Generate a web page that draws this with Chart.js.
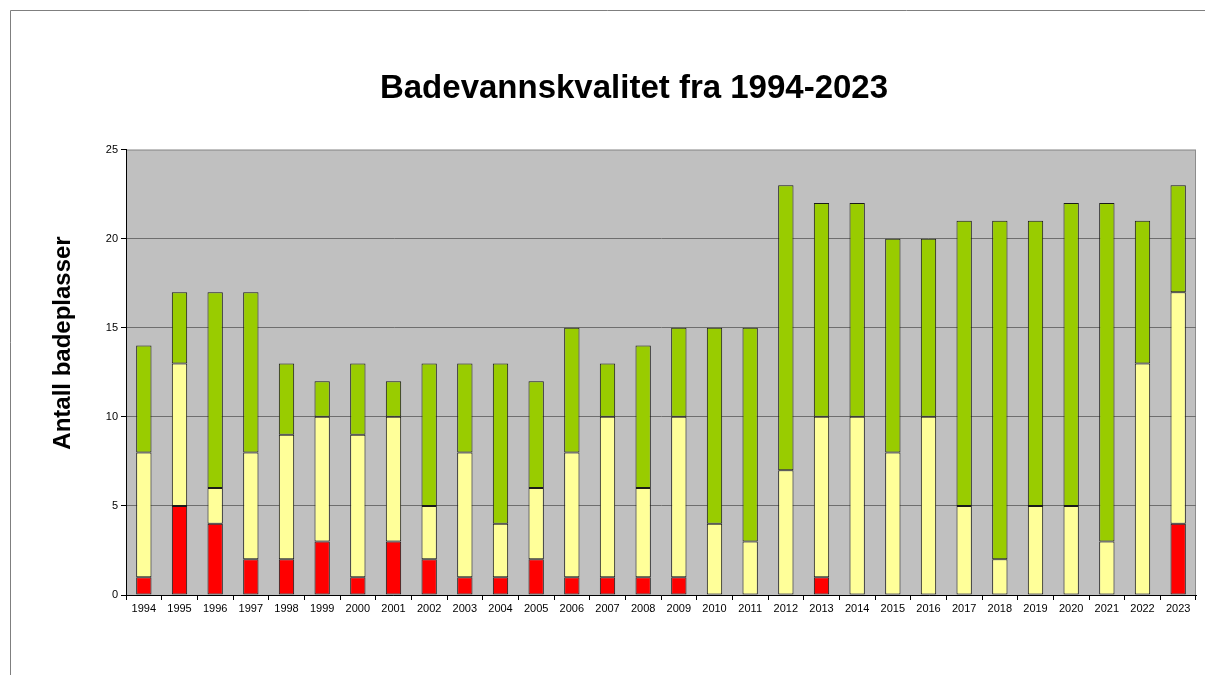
<!DOCTYPE html>
<html>
<head>
<meta charset="utf-8">
<script src="https://cdn.jsdelivr.net/npm/chart.js@4/dist/chart.umd.min.js"></script>
<style>
  html, body { margin: 0; padding: 0; background: #ffffff; }
  #wrap { width: 1205px; height: 675px; position: relative; }
</style>
</head>
<body>
<div id="wrap"><canvas id="c" width="1205" height="675"></canvas></div>
<script>
const years = ['1994','1995','1996','1997','1998','1999','2000','2001','2002','2003','2004','2005','2006','2007','2008','2009','2010','2011','2012','2013','2014','2015','2016','2017','2018','2019','2020','2021','2022','2023'];
const redValues    = [1,5,4,2,2,3,1,3,2,1,1,2,1,1,1,1,0,0,0,1,0,0,0,0,0,0,0,0,0,4];
const yellowValues = [7,8,2,6,7,7,8,7,3,7,3,4,7,9,5,9,4,3,7,9,10,8,10,5,2,5,5,3,13,13];
const greenValues  = [6,4,11,9,4,2,4,2,8,5,9,6,7,3,8,5,11,12,16,12,12,12,10,16,19,16,17,19,8,6];
const yTicks = [0,5,10,15,20,25];
const titleText = 'Badevannskvalitet fra 1994-2023';
const yTitleText = 'Antall badeplasser';

const FONT = '"Liberation Sans", Arial, sans-serif';

const framePlugin = {
  id: 'frame',
  beforeDraw(chart) {
    const ctx = chart.ctx;
    const a = chart.chartArea;
    ctx.save();
    ctx.fillStyle = '#ffffff';
    ctx.fillRect(0, 0, chart.width, chart.height);
    ctx.strokeStyle = '#7f7f7f';
    ctx.lineWidth = 1;
    ctx.beginPath();
    ctx.moveTo(10.5, chart.height);
    ctx.lineTo(10.5, 10.5);
    ctx.lineTo(chart.width, 10.5);
    ctx.stroke();
    ctx.fillStyle = '#c0c0c0';
    ctx.fillRect(a.left, a.top, a.right - a.left, a.bottom - a.top);
    ctx.strokeStyle = '#8c8c8c';
    ctx.strokeRect(a.left + 0.5, a.top + 0.5, a.right - a.left - 1, a.bottom - a.top);
    ctx.restore();
  },
  afterDraw(chart) {
    const ctx = chart.ctx;
    ctx.save();
    ctx.translate(63, 343);
    ctx.rotate(-Math.PI / 2);
    ctx.fillStyle = '#000';
    ctx.font = 'bold 24px ' + FONT;
    ctx.textAlign = 'center';
    ctx.textBaseline = 'middle';
    ctx.fillText(yTitleText, 0, 0);
    ctx.restore();
  }
};

const common = { borderColor: '#1a1a1a', borderWidth: 1, borderSkipped: false, barPercentage: 1, categoryPercentage: 0.43 };

new Chart(document.getElementById('c'), {
  type: 'bar',
  data: {
    labels: years,
    datasets: [
      Object.assign({ label: 'Rød', data: redValues, backgroundColor: '#ff0000' }, common),
      Object.assign({ label: 'Gul', data: yellowValues, backgroundColor: '#ffff99' }, common),
      Object.assign({ label: 'Grønn', data: greenValues, backgroundColor: '#99cc00' }, common)
    ]
  },
  options: {
    responsive: false,
    animation: false,
    devicePixelRatio: 1,
    layout: { padding: { left: 72, right: 9, top: 0, bottom: 0 } },
    plugins: {
      legend: { display: false },
      tooltip: { enabled: false },
      title: {
        display: true,
        text: titleText,
        color: '#000',
        font: { family: FONT, size: 33, weight: 'bold', lineHeight: 1.2 },
        padding: { top: 69, bottom: 41 }
      }
    },
    scales: {
      x: {
        stacked: true,
        grid: { display: true, drawOnChartArea: false, offset: true, tickLength: 5, color: '#000', tickColor: '#000' },
        border: { display: true, color: '#000', width: 1 },
        ticks: { color: '#000', font: { family: FONT, size: 11 }, padding: 2, maxRotation: 0, autoSkip: false },
        afterFit(s) { s.height = 80; }
      },
      y: {
        stacked: true,
        min: 0,
        max: 25,
        afterBuildTicks(s) { s.ticks = yTicks.map(v => ({ value: v })); },
        grid: {
          drawOnChartArea: true,
          tickLength: 5,
          tickColor: '#000',
          color: (c) => (c.tick && (c.tick.value === 25 || c.tick.value === 0)) ? 'rgba(0,0,0,0)' : '#6e6e6e'
        },
        border: { display: true, color: '#000', width: 1 },
        ticks: { color: '#000', font: { family: FONT, size: 11 }, padding: 3 },
        afterFit(s) { s.width = 54; }
      }
    }
  },
  plugins: [framePlugin]
});
</script>
</body>
</html>
